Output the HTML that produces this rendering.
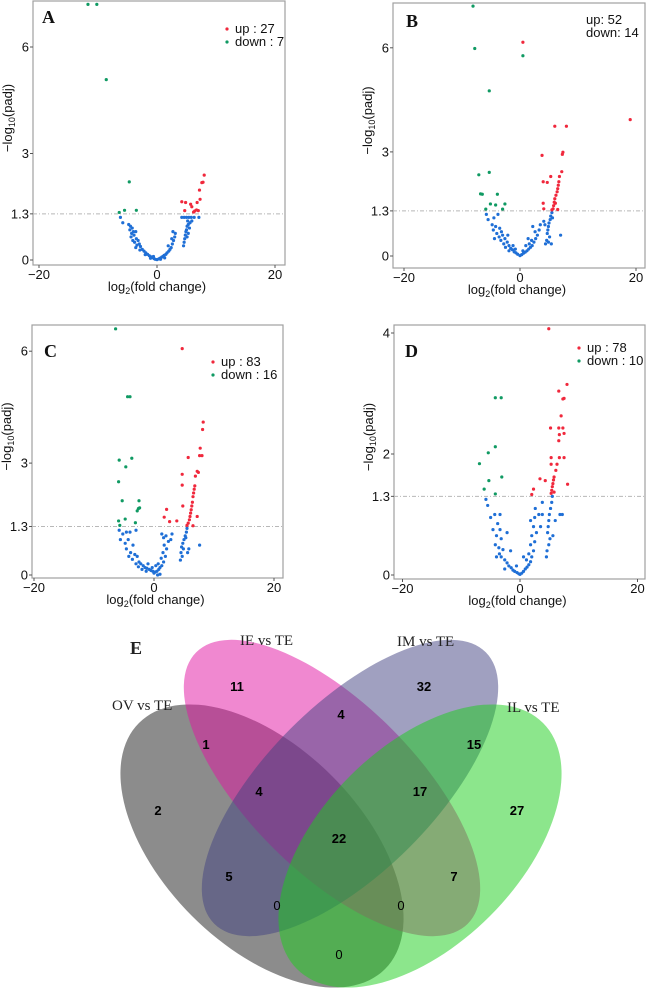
<!DOCTYPE html>
<html><head><meta charset="utf-8">
<style>
html,body{margin:0;padding:0;background:#fff;}
svg{display:block;font-family:"Liberation Sans",sans-serif;}
</style></head>
<body>
<svg id="fig" width="647" height="991" viewBox="0 0 647 991" xmlns="http://www.w3.org/2000/svg">
  <g id="panels"></g>
  <g id="venn">
    <ellipse cx="262" cy="846" rx="174" ry="99" transform="rotate(45 262 846)" fill="#1a1a1a" fill-opacity="0.5"/>
    <ellipse cx="332" cy="788" rx="192" ry="84" transform="rotate(45 332 788)" fill="#e111a1" fill-opacity="0.5"/>
    <ellipse cx="350" cy="788" rx="192" ry="84" transform="rotate(-45 350 788)" fill="#414181" fill-opacity="0.5"/>
    <ellipse cx="420" cy="846" rx="174" ry="99" transform="rotate(-45 420 846)" fill="#19cd19" fill-opacity="0.5"/>
    <g font-family="'Liberation Serif',serif" font-size="15" fill="#222">
      <text x="130" y="654" font-weight="bold" font-size="18">E</text>
      <text x="112" y="710">OV vs TE</text>
      <text x="240" y="645">IE vs TE</text>
      <text x="397" y="646">IM vs TE</text>
      <text x="507" y="712">IL vs TE</text>
    </g>
    <g font-size="13" text-anchor="middle" fill="#000" font-weight="bold">
      <text x="237" y="691">11</text>
      <text x="424" y="691">32</text>
      <text x="206" y="749">1</text>
      <text x="341" y="719">4</text>
      <text x="474" y="749">15</text>
      <text x="259" y="796">4</text>
      <text x="420" y="796">17</text>
      <text x="158" y="815">2</text>
      <text x="517" y="815">27</text>
      <text x="339" y="843">22</text>
      <text x="229" y="881">5</text>
      <text x="454" y="881">7</text>
      <text x="277" y="910" font-weight="normal">0</text>
      <text x="401" y="910" font-weight="normal">0</text>
      <text x="339" y="959" font-weight="normal">0</text>
    </g>
  </g>
</svg>
<script>
// Panel A data (x = log2 fold change, y = -log10 padj), flat pairs
const aDown=[-11.7,7.2,-10.2,7.2,-8.6,5.08,-4.7,2.2,-6.4,1.34,-5.5,1.4,-3.5,1.4];
const aUp=[4.2,1.64,4.85,1.62,4.7,1.39,5.7,1.57,6.4,1.38,6.7,1.41,7.0,1.39,6.8,1.62,7.3,1.71,7.2,1.97,7.6,2.18,7.8,2.19,8.0,2.39,5.9,1.5,6.2,1.35];
const aNs=[-6.2,1.2,-5.8,1.05,-4.8,1.0,-4.5,0.95,-4.2,0.9,-4.6,0.85,-4.0,0.8,-4.3,0.75,-3.6,0.8,-3.9,0.7,-4.4,0.65,-3.5,0.6,-4.1,0.55,-3.2,0.55,-3.8,0.5,-3.0,0.45,-3.4,0.42,-2.8,0.38,-3.6,0.35,-2.5,0.3,-2.2,0.25,-2.9,0.28,-1.9,0.2,-1.6,0.16,-1.3,0.12,-1.0,0.09,-0.8,0.07,-0.5,0.04,-0.3,0.02,0,0.01,0.3,0.03,0.5,0.05,0.8,0.08,1.0,0.1,1.2,0.13,1.5,0.16,1.7,0.2,2.0,0.25,2.2,0.3,2.4,0.35,1.9,0.4,2.6,0.45,2.8,0.55,2.5,0.6,3.0,0.65,2.7,0.8,3.1,0.75,-2.0,0.15,-1.1,0.05,0.6,0.02,1.3,0.06,-0.6,0.1,4.2,1.2,4.6,1.2,5.0,1.2,5.4,1.2,5.8,1.2,6.3,1.2,7.1,1.2,5.2,1.1,5.6,1.05,5.3,1.0,5.1,0.95,5.5,0.9,5.0,0.85,4.9,0.8,5.3,0.75,4.8,0.7,5.1,0.65,4.7,0.6,4.6,0.5,4.5,0.4,5.9,1.1];
// Panel B
const bDown=[-8.1,7.2,-7.8,5.98,-5.3,4.76,-7.1,2.34,-5.3,2.41,-6.8,1.79,-6.5,1.78,-3.9,1.78,-5.1,1.5,-4.2,1.47,-2.6,1.5,-5.9,1.35,-3.0,1.35,0.5,5.77];
const bUp=[0.5,6.16,6.0,3.74,8.0,3.74,19.0,3.93,3.8,2.9,7.4,2.99,7.3,2.93,7.2,2.43,4.0,2.14,4.7,2.12,5.3,2.29,6.8,2.29,6.7,2.14,6.6,2.04,6.5,1.94,6.4,1.85,6.2,1.75,6.0,1.65,5.9,1.55,5.8,1.45,5.7,1.36,4.0,1.52,4.1,1.36,6.5,1.34,5.5,1.33,6.1,1.52];
const bNs=[-5.8,1.2,-5.5,1.05,-4.5,1.1,-3.8,1.2,-4.8,0.9,-4.2,0.85,-3.5,0.8,-4.6,0.75,-3.2,0.7,-4.0,0.65,-3.0,0.6,-3.6,0.55,-4.4,0.5,-2.6,0.5,-3.3,0.45,-2.2,0.4,-2.8,0.35,-1.9,0.3,-2.5,0.25,-1.6,0.22,-1.3,0.18,-1.9,0.15,-1.0,0.12,-0.7,0.09,-0.4,0.05,0,0.01,0.3,0.04,0.6,0.08,0.9,0.11,1.2,0.15,1.5,0.2,1.8,0.25,2.1,0.3,1.6,0.35,2.4,0.4,2.0,0.45,2.7,0.5,3.0,0.6,2.6,0.7,3.3,0.75,2.2,0.85,3.5,0.9,-1.2,0.3,1.0,0.3,-0.8,0.2,0.5,0.15,-2.1,0.6,1.4,0.5,5.5,1.25,5.3,1.15,5.2,1.05,5.0,0.95,4.9,0.85,4.8,0.75,4.7,0.65,5.1,0.55,4.6,0.45,4.9,0.4,4.4,0.35,5.4,0.35,7.0,0.6,4.1,1.0,4.3,0.9,5.6,1.1];
// Panel C
const cDown=[-6.4,6.6,-4.4,4.78,-4.0,4.78,-5.8,3.08,-3.7,3.13,-4.7,2.9,-5.9,2.5,-5.3,1.99,-2.5,1.99,-2.6,1.78,-2.8,1.72,-2.4,1.8,-4.8,1.5,-5.9,1.45,-3.1,1.4,-5.7,1.33];
const cUp=[4.7,6.07,8.2,4.1,8.1,3.9,7.7,3.4,7.6,3.2,8.0,3.2,5.7,3.15,7.2,2.78,7.4,2.75,4.7,2.7,6.9,2.65,4.7,2.41,6.8,2.39,6.7,2.3,6.6,2.2,6.5,2.1,6.4,1.95,6.3,1.85,6.2,1.75,6.1,1.66,6.0,1.57,5.9,1.48,5.7,1.39,5.5,1.33,2.1,1.76,1.7,1.55,2.6,1.43,3.8,1.45,4.8,1.85,7.2,1.57,6.5,1.32];
const cNs=[-5.8,1.2,-5.2,1.1,-4.6,1.15,-4.0,1.15,-3.0,1.2,-5.6,0.95,-4.8,0.85,-4.3,0.95,-3.5,0.8,-4.6,0.7,-3.9,0.6,-3.2,0.55,-4.2,0.5,-2.8,0.5,-3.6,0.42,-2.5,0.35,-3.0,0.3,-2.2,0.3,-1.8,0.25,-2.6,0.22,-1.5,0.2,-1.2,0.18,-2.0,0.15,-0.8,0.15,-0.5,0.12,-1.3,0.1,-0.2,0.1,0.2,0.08,0.5,0.1,0.8,0.15,1.0,0.2,1.3,0.25,0.7,0.3,1.6,0.35,1.2,0.45,1.9,0.5,1.5,0.6,2.1,0.7,1.7,0.8,2.4,0.9,1.6,1.0,2.0,1.05,3.0,1.1,2.8,0.95,1.3,1.1,-1.0,0.3,0.3,0.25,-0.3,0.2,0.0,0.05,1.0,0.02,0.6,0.0,5.5,1.25,5.4,1.15,5.2,1.05,5.0,0.95,4.8,0.85,4.6,0.75,4.9,0.7,4.5,0.6,4.7,0.5,4.4,0.4,5.6,0.6,5.8,0.7,7.6,0.8,5.3,1.0];
// Panel D
const dDown=[-4.2,2.93,-3.2,2.93,-4.2,2.12,-5.4,2.02,-6.9,1.84,-3.1,1.62,-5.3,1.56,-6.1,1.42,-4.2,1.34];
const dUp=[4.9,4.07,8.0,3.15,6.6,3.04,7.3,2.91,7.5,2.92,7.0,2.63,5.2,2.43,6.6,2.43,7.3,2.43,6.7,2.32,7.5,2.34,6.6,2.22,5.3,1.94,6.7,1.94,7.5,1.94,6.3,1.83,5.3,1.83,6.1,1.73,5.8,1.62,5.7,1.57,5.6,1.51,5.5,1.46,5.4,1.4,5.3,1.35,3.4,1.59,4.3,1.56,2.3,1.42,2.0,1.33,8.1,1.5,5.8,1.37];
const dNs=[-5.8,1.25,-5.5,1.15,-4.3,1.0,-3.4,1.0,-5.0,0.95,-3.8,0.85,-4.6,0.75,-3.4,0.75,-4.0,0.65,-3.2,0.6,-4.2,0.5,-3.6,0.45,-2.9,0.42,-4.0,0.3,-3.2,0.3,-2.6,0.25,-3.5,0.35,-2.2,0.2,-1.9,0.15,-2.6,0.1,-1.5,0.12,-1.2,0.08,-0.9,0.06,-0.5,0.04,-0.2,0.02,0,0.01,0.3,0.03,0.6,0.06,0.9,0.1,1.2,0.13,1.5,0.17,1.8,0.22,1.1,0.25,2.0,0.3,1.5,0.35,2.3,0.4,1.8,0.5,2.5,0.55,2.0,0.65,2.8,0.7,2.3,0.8,3.5,0.8,2.5,0.95,1.8,0.9,3.2,1.0,2.6,1.1,3.8,1.0,-2.2,0.7,-1.6,0.4,0.6,0.3,-0.6,0.15,5.5,1.3,5.4,1.2,5.2,1.1,5.0,1.0,4.9,0.9,4.8,0.8,4.7,0.7,5.1,0.6,4.9,0.5,4.6,0.4,4.5,0.3,7.2,1.0,6.8,1.0,6.0,0.9,5.6,0.65,3.8,1.2];
const xTicks=[-20,0,20];
const xTickLabels=["\u221220","0","20"];
const yTicksABC=[0,1.3,3,6];
const yTicksD=[0,1.3,2,4];
const threshold=1.3;
const legendA=["up : 27","down : 7"];
const legendB=["up: 52","down: 14"];
const legendC=["up : 83","down : 16"];
const legendD=["up : 78","down : 10"];

const NS='http://www.w3.org/2000/svg';
function mk(tag,attrs,parent){const e=document.createElementNS(NS,tag);for(const k in attrs)e.setAttribute(k,attrs[k]);parent.appendChild(e);return e;}

const panels=[
 {id:'a',L:'A',box:[33,1,285,265],x0:157,xs:5.9,y0:260,ys:35.5,yt:yTicksABC,ns:aNs,up:aUp,down:aDown,leg:legendA,legX:227,legY:33,legDots:true,lab:[42,23]},
 {id:'b',L:'B',box:[393,3,645,268],x0:520,xs:5.8,y0:256,ys:34.7,yt:yTicksABC,ns:bNs,up:bUp,down:bDown,leg:legendB,legX:586,legY:24,legDots:false,lab:[406,27]},
 {id:'c',L:'C',box:[32,325,283,578],x0:154,xs:6.0,y0:575,ys:37.3,yt:yTicksABC,ns:cNs,up:cUp,down:cDown,leg:legendC,legX:213,legY:366,legDots:true,lab:[44,357]},
 {id:'d',L:'D',box:[394,325,645,579],x0:520,xs:5.875,y0:575,ys:60.5,yt:yTicksD,ns:dNs,up:dUp,down:dDown,leg:legendD,legX:579,legY:352,legDots:true,lab:[405,357]}
];
const root=document.getElementById('panels');
panels.forEach(p=>{
  const g=mk('g',{},root);
  
  
  const [bx0,by0,bx1,by1]=p.box;
  const X=v=>p.x0+v*p.xs, Y=v=>p.y0-v*p.ys;
  const rect=mk('rect',{x:bx0,y:by0,width:bx1-bx0,height:by1-by0,fill:'#fff',stroke:'#a0a0a0','stroke-width':1.2},g);
  
  
  const th=mk('line',{x1:bx0,x2:bx1,y1:Y(threshold),y2:Y(threshold),stroke:'#b8b8b8','stroke-width':1,'stroke-dasharray':'4 2 1 2'},g);
  
  
  xTicks.forEach((t,i)=>{
    mk('line',{x1:X(t),x2:X(t),y1:by1,y2:by1+3,stroke:'#555'},g);
    const tx=mk('text',{x:X(t),y:by1+14,'text-anchor':'middle','font-size':13,fill:'#111'},g);
    tx.textContent=xTickLabels[i];
    
    
  });
  p.yt.forEach(t=>{
    mk('line',{x1:bx0-3,x2:bx0,y1:Y(t),y2:Y(t),stroke:'#555'},g);
    const ty=mk('text',{x:bx0-4,y:Y(t)+4.5,'text-anchor':'end','font-size':13,fill:'#111'},g);
    ty.textContent=String(t);
    
    
  });
  const xl=mk('text',{x:(bx0+bx1)/2-2,y:by1+26,'text-anchor':'middle','font-size':13,fill:'#111'},g);
  xl.innerHTML='log<tspan font-size="9" dy="3">2</tspan><tspan dy="-3">(fold change)</tspan>';
  
  
  const cy=(by0+by1)/2-15, cx=bx0-21;
  const yl=mk('text',{x:cx,y:cy,'text-anchor':'middle','font-size':13,fill:'#111',transform:`rotate(-90 ${cx} ${cy})`},g);
  yl.innerHTML='\u2212log<tspan font-size="9" dy="3">10</tspan><tspan dy="-3">(padj)</tspan>';
  
  
  const drawPts=(arr,col,name)=>{
    const sg=mk('g',{fill:col},g);
    
    
    for(let i=0;i<arr.length;i+=2){
      const c=mk('circle',{cx:X(arr[i]),cy:Y(arr[i+1]),r:1.6},sg);
      
      
    }
  };
  drawPts(p.ns,'#1f6fd6','points-not-significant');
  drawPts(p.down,'#109a63','points-down');
  drawPts(p.up,'#f0283c','points-up');
  const lab=mk('text',{x:p.lab[0],y:p.lab[1],'font-family':"'Liberation Serif',serif",'font-weight':'bold','font-size':18,fill:'#111'},g);
  lab.textContent=p.L;
  
  
  p.leg.forEach((s,i)=>{
    const yy=p.legY+i*13;
    if(p.legDots){
      const d=mk('circle',{cx:p.legX,cy:yy-4,r:1.6,fill:i===0?'#f0283c':'#109a63'},g);
      
      
    }
    const t=mk('text',{x:p.legX+(p.legDots?8:0),y:yy,'font-size':13,fill:'#111'},g);
    t.textContent=s;
    
    
  });
});
</script>
</body></html>
